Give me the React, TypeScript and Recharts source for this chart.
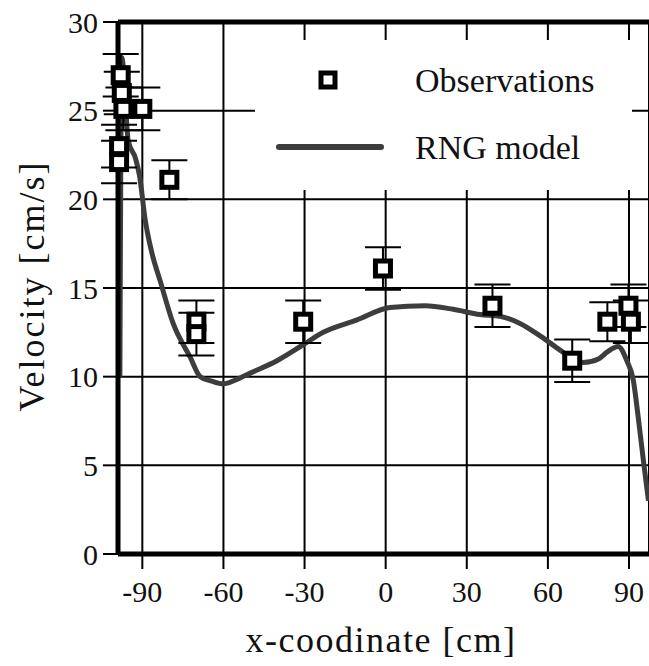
import {
  ComposedChart, Line, Scatter, ErrorBar, XAxis, YAxis, CartesianGrid,
  ReferenceLine, Legend
} from 'recharts';

const SERIF = "'Liberation Serif', 'Times New Roman', serif";
const MODEL_GRAY = '#3d3d3d';

// observations (x in cm, velocity in cm/s, half error bar)
const obsX = [-98, -97.6, -97, -90, -98.6, -98.6, -80, -70, -70, -30.5, -1, 39.5, 69, 82, 89.8, 90.7];
const obsY = [27, 26, 25.1, 25.1, 23, 22.1, 21.1, 13.1, 12.4, 13.1, 16.1, 14, 10.9, 13.1, 14, 13.1];
const obsErr = [1.2, 1.2, 1.2, 1.2, 1.2, 1.2, 1.1, 1.2, 1.2, 1.2, 1.2, 1.2, 1.2, 1.1, 1.2, 1.2];

// RNG model curve
const modelX = [-98.3, -97.6, -95.2, -92.5, -91, -89, -86.5, -83.4, -78.6, -72.3, -68.6, -64.3, -60.1, -55, -50.1, -40.2, -30.5, -23.1, -10.6, 1.6, 14.6, 25, 34.9, 42.3, 49.7, 57.1, 64.5, 70, 73.1, 78.7, 82, 86, 89.2, 91.6, 93.5, 95.3, 97.2];
const modelY = [10, 28, 23.3, 22.3, 21.3, 18.9, 17.0, 15.4, 13.0, 11.1, 10.0, 9.75, 9.6, 9.85, 10.2, 10.9, 11.8, 12.5, 13.2, 13.9, 14.0, 13.8, 13.5, 13.4, 13.0, 12.3, 11.5, 10.95, 10.8, 11.0, 11.4, 11.7, 10.9, 9.8, 7.6, 5.3, 3.0];

const xTicks = [-90, -60, -30, 0, 30, 60, 90];
const yTicks = [0, 5, 10, 15, 20, 25, 30];

const obsData = obsX.map((x, i) => ({ x, y: obsY[i], err: obsErr[i] }));
const modelData = modelX.map((x, i) => ({ x, y: modelY[i] }));

function SquareMarker(props: any) {
  const { cx, cy } = props;
  return <rect x={cx - 7.5} y={cy - 7.5} width={15} height={15} fill="#fff" stroke="#000" strokeWidth={5} />;
}

function LegendBox() {
  return (
    <svg width={377} height={150} style={{ display: 'block', background: '#fff' }}>
      <rect x={66} y={33} width={14} height={14} fill="#fff" stroke="#000" strokeWidth={5} />
      <text x={160} y={40} dy="0.35em" fontSize={34} fontFamily={SERIF} fill="#111">Observations</text>
      <line x1={24} y1={107} x2={126} y2={107} stroke={MODEL_GRAY} strokeWidth={6} strokeLinecap="round" />
      <text x={160} y={107} dy="0.35em" fontSize={34} fontFamily={SERIF} fill="#111">RNG model</text>
    </svg>
  );
}

function XTitle() {
  return (
    <text x={381} y={652} textAnchor="middle" fontSize={36} letterSpacing={1.5} fontFamily={SERIF} fill="#111">
      x-coodinate [cm]
    </text>
  );
}

function YTitle() {
  return (
    <text x={31} y={286} transform="rotate(-90 31 286)" textAnchor="middle" dy="0.35em"
      fontSize={36} letterSpacing={2} fontFamily={SERIF} fill="#111">
      Velocity [cm/s]
    </text>
  );
}

export default function App() {
  const tickStyle = { fill: '#111', fontSize: 30, fontFamily: SERIF };
  return (
    <div style={{ position: 'absolute', left: 0, top: 0, width: 649, height: 666, background: '#fff' }}>
      <ComposedChart width={649} height={666} margin={{ top: 22, right: 0, bottom: 0, left: 0 }}>
        <CartesianGrid stroke="#000" strokeWidth={2} />
        <XAxis
          type="number"
          dataKey="x"
          domain={[-99, 97.4]}
          ticks={xTicks}
          interval={0}
          height={112}
          tick={tickStyle}
          tickSize={15}
          tickMargin={12}
          axisLine={{ stroke: '#000', strokeWidth: 5 }}
          tickLine={{ stroke: '#000', strokeWidth: 2 }}
          label={<XTitle />}
        />
        <YAxis
          type="number"
          domain={[0, 30]}
          ticks={yTicks}
          interval={0}
          width={118}
          tick={tickStyle}
          tickSize={15}
          tickMargin={5}
          axisLine={{ stroke: '#000', strokeWidth: 5 }}
          tickLine={{ stroke: '#000', strokeWidth: 2 }}
          label={<YTitle />}
        />
        <ReferenceLine y={30} stroke="#000" strokeWidth={5} />
        <Legend
          layout="horizontal"
          align="center"
          verticalAlign="middle"
          content={() => <LegendBox />}
          wrapperStyle={{ position: 'absolute', left: 255, top: 40, width: 377, height: 150 }}
        />
        <Line
          data={modelData}
          dataKey="y"
          type="monotone"
          stroke={MODEL_GRAY}
          strokeWidth={5}
          dot={false}
          activeDot={false}
          isAnimationActive={false}
          name="RNG model"
        />
        <Scatter
          data={obsData}
          dataKey="y"
          shape={SquareMarker}
          isAnimationActive={false}
          name="Observations"
        >
          <ErrorBar dataKey="err" direction="y" width={18} stroke="#000" strokeWidth={2} />
        </Scatter>
      </ComposedChart>
    </div>
  );
}
